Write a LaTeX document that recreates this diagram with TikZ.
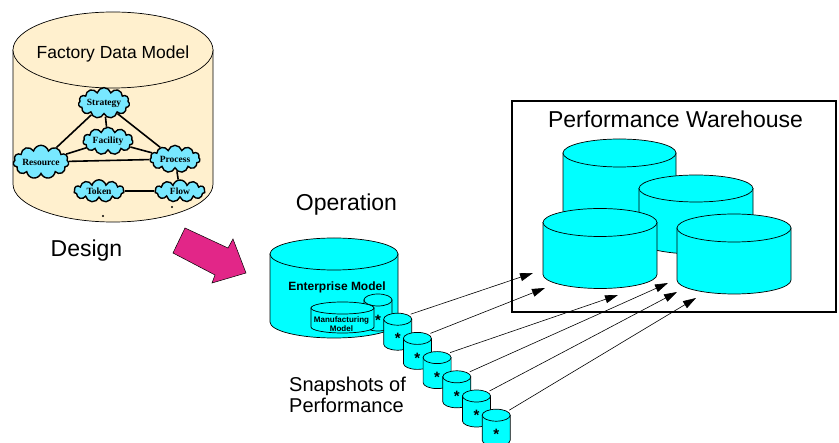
\documentclass[tikz,border=0pt]{standalone}
\usepackage{fontspec}
\setmainfont{Liberation Sans}
\newfontfamily\cloudfont{Liberation Serif}
\usetikzlibrary{shapes.symbols,arrows.meta}

\definecolor{beige}{RGB}{255,240,206}
\definecolor{drumcyan}{RGB}{0,255,255}
\definecolor{cloudblue}{RGB}{120,232,255}
\definecolor{designpink}{RGB}{226,38,136}

% drum: centre x, centre y of top, x radius, y radius, height, fill
\newcommand{\drum}[6]{%
  \filldraw[fill=#6, line width=0.7pt] (#1-#3,#2) -- (#1-#3,#2+#5)
    arc[start angle=180, end angle=0, x radius=#3, y radius=#4] -- (#1+#3,#2) -- cycle;
  \filldraw[fill=#6, line width=0.7pt] (#1,#2) ellipse[x radius=#3, y radius=#4];
}

\begin{document}
\begin{tikzpicture}[x=1pt,y=1pt,yscale=-1,
    bigtext/.style={inner sep=0pt, font=\fontsize{23}{26}\selectfont},
    cloudbox/.style={cloud, cloud puffs=11, aspect=2.3, draw, line width=1.4pt,
        fill=cloudblue, inner sep=0pt, minimum width=50pt, minimum height=22pt,
        font=\cloudfont\bfseries\fontsize{9.5}{10}\selectfont},
    link/.style={line width=1.6pt},
    snaparrow/.style={line width=0.6pt, -{Triangle[length=13pt,width=8pt]}},
    starmark/.style={inner sep=0pt, font=\bfseries\fontsize{15}{15}\selectfont}]
    \useasboundingbox (0,0) rectangle (839,443);

    % factory data model
    \drum{113}{50}{100}{38}{134}{beige}
    \node[inner sep=0pt, anchor=base, font=\fontsize{17.5}{20}\selectfont] (factory) at (113,59) {Factory Data Model};

    \node[cloudbox] (strategy) at (104,103) {Strategy};
    \node[cloudbox] (facility) at (108,141) {Facility};
    \node[cloudbox] (resource) at (41,162) {Resource};
    \node[cloudbox] (process) at (175,159) {Process};
    \node[cloudbox] (token) at (99,191) {Token};
    \node[cloudbox] (flow) at (180,191) {Flow};

    \draw[link] (strategy) -- (facility);
    \draw[link] (strategy) -- (resource);
    \draw[link] (strategy) -- (process);
    \draw[link] (facility) -- (resource);
    \draw[link] (facility) -- (process);
    \draw[link] (resource) -- (process);
    \draw[link] (process) -- (flow);
    \draw[link] (token) -- (flow);

    \fill (103,216) circle (1.2);
    \fill (172,207) circle (1.2);

    \node[bigtext, anchor=base] (design) at (86.5,257) {Design};

    % design arrow
    \filldraw[fill=designpink, line width=0.5pt] (185,228) -- (228,248) -- (233,239)
        -- (246,273) -- (212,283) -- (215,275) -- (173,253) -- cycle;

    % operation
    \node[bigtext, anchor=base] (operation) at (346.5,211) {Operation};
    \drum{334}{254}{64}{16}{68}{drumcyan}
    \node[inner sep=0pt, anchor=base, font=\bfseries\fontsize{12}{12}\selectfont] (enterprise) at (337,291) {Enterprise Model};

    \drum{378}{300}{14}{6}{25}{drumcyan}
    \node[starmark] (star0) at (378,320) {*};
    \drum{342.5}{308}{31.5}{6}{19}{drumcyan}
    \node[inner sep=0pt, align=center, font=\bfseries\fontsize{8}{8.5}\selectfont] (manufacturing) at (341.5,324) {Manufacturing\\Model};

    % snapshots
    \foreach \i in {1,...,6} {
        \pgfmathsetmacro\cx{378+19.7*\i}
        \pgfmathsetmacro\cy{300+19.2*\i}
        \drum{\cx}{\cy}{14}{6}{25}{drumcyan}
        \node[starmark] (star\i) at (\cx,\cy+19.5) {*};
        \coordinate (snap\i) at (\cx+13,\cy-5);
    }
    \node[inner sep=0pt, anchor=base west, align=left, font=\fontsize{20}{21}\selectfont] (snapshots) at (289,413) {Snapshots of\\Performance};

    % performance warehouse
    \draw[line width=2.4pt] (512,101) rectangle (836,312);
    \node[bigtext, anchor=base] (warehouse) at (675.5,128) {Performance Warehouse};
    \drum{619.5}{153}{56.5}{14}{62}{drumcyan}
    \drum{696}{188.5}{57}{13.5}{52}{drumcyan}
    \drum{600}{222.5}{57}{14}{52}{drumcyan}
    \drum{734}{228}{57}{14}{52}{drumcyan}

    \coordinate (tip1) at (533,273);
    \coordinate (tip2) at (545,288);
    \coordinate (tip3) at (618,295);
    \coordinate (tip4) at (668,283);
    \coordinate (tip5) at (677,292);
    \coordinate (tip6) at (696,298);
    \foreach \i in {1,...,6}
        \draw[snaparrow] (snap\i) -- (tip\i);
\end{tikzpicture}
\end{document}
